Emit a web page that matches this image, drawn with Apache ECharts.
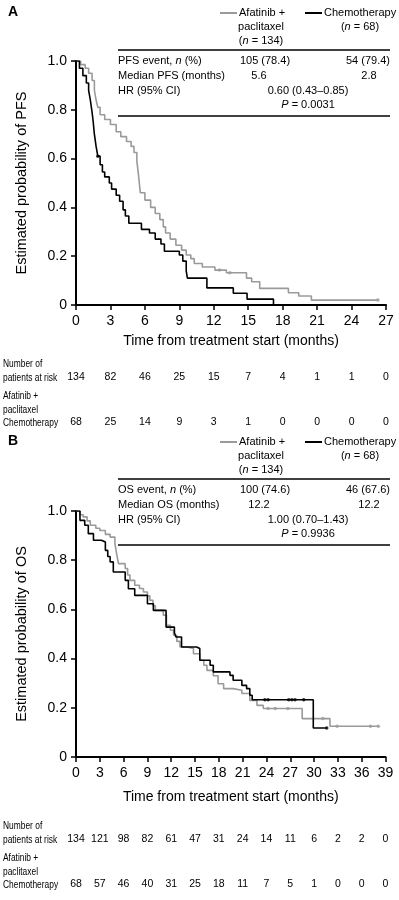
<!DOCTYPE html>
<html><head><meta charset="utf-8">
<script src="https://cdn.jsdelivr.net/npm/echarts@6/dist/echarts.min.js"></script>
<style>html,body{margin:0;padding:0;background:#fff}#c{width:399px;height:900px}</style>
</head><body><div id="c"></div>
<script>
// ---------- DATA ----------
const pfsTicks = [0,3,6,9,12,15,18,21,24,27];
const osTicks = [0,3,6,9,12,15,18,21,24,27,30,33,36,39];
const yTicks = [0,0.2,0.4,0.6,0.8,1.0];

const pfsAfatinib = [[0,1],[0.4,0.985],[0.8,0.97],[1.1,0.95],[1.4,0.92],[1.6,0.88],[1.75,0.84],[1.9,0.81],[2.1,0.78],[2.5,0.76],[3.0,0.74],[3.5,0.71],[3.9,0.69],[4.4,0.67],[4.8,0.65],[5.05,0.625],[5.3,0.59],[5.45,0.53],[5.6,0.46],[6.0,0.43],[6.5,0.40],[6.9,0.375],[7.3,0.35],[7.6,0.32],[7.8,0.295],[8.2,0.27],[8.7,0.245],[9.2,0.225],[9.6,0.205],[10.0,0.19],[10.3,0.17],[11.0,0.156],[12.1,0.143],[13.1,0.132],[14.85,0.11],[15.3,0.095],[16.0,0.068],[18.5,0.05],[19.4,0.037],[20.5,0.02],[26.3,0.02]];
const pfsChemo = [[0,1],[0.3,0.97],[0.6,0.94],[0.9,0.91],[1.1,0.88],[1.25,0.84],[1.4,0.79],[1.5,0.75],[1.6,0.70],[1.75,0.65],[1.9,0.61],[2.1,0.575],[2.3,0.545],[2.5,0.525],[2.9,0.50],[3.1,0.475],[3.5,0.45],[3.8,0.425],[4.1,0.39],[4.3,0.365],[4.6,0.335],[5.7,0.31],[6.4,0.295],[6.9,0.27],[7.4,0.25],[7.7,0.22],[9.0,0.205],[9.3,0.18],[9.6,0.14],[9.7,0.11],[11.4,0.07],[13.7,0.048],[14.9,0.024],[17.2,0]];
const pfsAfatinibCensor = [[12.5,0.143],[13.4,0.132],[26.3,0.02]];
const pfsChemoCensor = [[1.9,0.61]];

const osAfatinib = [[0,1],[0.5,0.985],[0.9,0.976],[1.4,0.96],[1.8,0.942],[2.5,0.93],[3.0,0.921],[3.7,0.905],[4.3,0.894],[4.9,0.867],[5.1,0.83],[5.35,0.786],[6.2,0.766],[6.5,0.74],[6.8,0.718],[7.4,0.698],[8.0,0.685],[8.5,0.671],[9.0,0.655],[9.3,0.637],[9.7,0.615],[10.0,0.596],[11.0,0.576],[11.4,0.535],[11.9,0.515],[12.3,0.495],[12.7,0.47],[13.1,0.447],[14.0,0.441],[14.8,0.42],[15.6,0.393],[16.1,0.373],[16.5,0.352],[17.3,0.33],[17.9,0.298],[18.6,0.278],[19.8,0.271],[20.9,0.258],[21.9,0.23],[22.8,0.21],[23.6,0.197],[28.5,0.156],[32.0,0.125],[38.1,0.125]];
const osChemo = [[0,1],[0.5,0.962],[1.1,0.942],[1.55,0.908],[2.2,0.881],[3.2,0.874],[3.7,0.84],[4.0,0.815],[4.3,0.793],[4.7,0.752],[6.2,0.718],[6.6,0.684],[7.4,0.657],[9.0,0.623],[9.75,0.596],[11.35,0.528],[12.4,0.505],[12.6,0.488],[13.3,0.447],[15.2,0.441],[15.6,0.393],[16.9,0.373],[17.3,0.346],[19.4,0.332],[19.8,0.312],[20.9,0.291],[21.5,0.278],[21.9,0.251],[22.2,0.233],[29.9,0.118],[31.6,0.118]];
const osAfatinibCensor = [[24.2,0.197],[25.1,0.197],[26.7,0.197],[31.1,0.156],[32.9,0.125],[37.1,0.125],[38.1,0.125]];
const osChemoCensor = [[23.8,0.233],[24.2,0.233],[26.8,0.233],[27.2,0.233],[27.6,0.233],[28.7,0.233],[31.6,0.118]];

const pfsRiskAfatinib = [134,82,46,25,15,7,4,1,1,0];
const pfsRiskChemo = [68,25,14,9,3,1,0,0,0,0];
const osRiskAfatinib = [134,121,98,82,61,47,31,24,14,11,6,2,2,0];
const osRiskChemo = [68,57,46,40,31,25,18,11,7,5,1,0,0,0];

const legendNames = ['Afatinib +','paclitaxel','(n = 134)','Chemotherapy','(n = 68)'];
const riskRowLabels = ['Number of','patients at risk','Afatinib +','paclitaxel','Chemotherapy'];
const pfsTable = {ev:['105 (78.4)','54 (79.4)'], med:['5.6','2.8'], hr:'0.60 (0.43\u20130.85)', p:'0.0031'};
const osTable = {ev:['100 (74.6)','46 (67.6)'], med:['12.2','12.2'], hr:'1.00 (0.70\u20131.43)', p:'0.9936'};

// ---------- CHART ----------
const FONT = '"Liberation Sans", Arial, sans-serif';
const GRAY = '#9a9a9a';
const chart = echarts.init(document.getElementById('c'), null, {renderer:'canvas'});

function mainX(grid, max, name, gap){
  return {type:'value', gridIndex:grid, min:0, max:max, interval:3,
    name:name, nameLocation:'middle', nameGap:gap,
    nameTextStyle:{fontFamily:FONT, fontSize:14, color:'#000'},
    axisLine:{lineStyle:{color:'#000', width:2}},
    axisTick:{length:5, lineStyle:{color:'#000', width:1.5}},
    axisLabel:{fontFamily:FONT, fontSize:14, color:'#000', margin:9},
    splitLine:{show:false}};
}
function riskX(grid, max, offset, arr){
  return {type:'value', gridIndex:grid, min:0, max:max, interval:3, position:'bottom', offset:offset,
    axisLine:{show:false}, axisTick:{show:false}, splitLine:{show:false},
    axisLabel:{fontFamily:FONT, fontSize:10.5, color:'#000', margin:0,
      formatter:(v)=>{const i=Math.round(v/3); return arr[i]===undefined?'':String(arr[i]);}}};
}
function mainY(grid, name){
  return {type:'value', gridIndex:grid, min:0, max:1, interval:0.2,
    name:name, nameLocation:'middle', nameGap:47, nameRotate:90,
    nameTextStyle:{fontFamily:FONT, fontSize:14.5, color:'#000'},
    axisLine:{show:true, lineStyle:{color:'#000', width:2}},
    axisTick:{show:true, length:5, lineStyle:{color:'#000', width:1.5}},
    axisLabel:{fontFamily:FONT, fontSize:14, color:'#000', margin:9,
      formatter:(v)=> v===0 ? '0' : v.toFixed(1)},
    splitLine:{show:false}};
}
function km(x, y, data, color, z){
  return {type:'line', xAxisIndex:x, yAxisIndex:y, data:data, step:'end', symbol:'none',
    lineStyle:{color:color, width:1.6}, z:z, animation:false};
}
function cens(x, y, data, color, z){
  return {type:'scatter', xAxisIndex:x, yAxisIndex:y, data:data, symbol:'circle', symbolSize:3.5,
    itemStyle:{color:color}, z:z, animation:false};
}

function T(x, y, text, opt){
  opt = opt || {};
  const el = {type:'text', x:x, y:y, z:10, style:{text:text, fill:'#000',
    font:(opt.bold?'bold ':'')+(opt.size||11)+'px '+FONT, align:opt.align||'left', verticalAlign:'middle'}};
  if (opt.sx) el.scaleX = opt.sx;
  return el;
}
function RT(x, y, text, align, size){
  return {type:'text', x:x, y:y, z:10, style:{text:text, align:align||'left', verticalAlign:'middle',
    rich:{a:{fontFamily:FONT, fontSize:size||11, fill:'#000'}, i:{fontFamily:FONT, fontSize:size||11, fontStyle:'italic', fill:'#000'}}}};
}
function L(x1, y1, x2, y2, color, w){
  return {type:'line', z:10, shape:{x1:x1,y1:y1,x2:x2,y2:y2}, style:{stroke:color, lineWidth:w}};
}

function panelGraphics(top, label, tbl, rowName, medName){
  const g = [];
  g.push(T(8, top-1, label, {bold:true, size:14}));
  // legend
  g.push(L(220, top, 237, top, GRAY, 2));
  g.push(T(239, top, legendNames[0]));
  g.push(T(261, top+14, legendNames[1], {align:'center'}));
  g.push(RT(261, top+28, '{a|(}{i|n}{a| = 134)}', 'center'));
  g.push(L(305, top, 322, top, '#000', 2));
  g.push(T(324, top, legendNames[3]));
  g.push(RT(360, top+14, '{a|(}{i|n}{a| = 68)}', 'center'));
  // table
  g.push(L(118, top+37, 390, top+37, '#000', 1.5));
  g.push(RT(118, top+48, '{a|'+rowName+' event, }{i|n}{a| (%)}', 'left'));
  g.push(T(265, top+48, tbl.ev[0], {align:'center'}));
  g.push(T(368, top+48, tbl.ev[1], {align:'center'}));
  g.push(T(118, top+63, medName));
  g.push(T(259, top+63, tbl.med[0], {align:'center'}));
  g.push(T(369, top+63, tbl.med[1], {align:'center'}));
  g.push(T(118, top+78, 'HR (95% CI)'));
  g.push(T(308, top+78, tbl.hr, {align:'center'}));
  g.push(RT(308, top+92, '{i|P}{a| = '+tbl.p+'}', 'center'));
  g.push(L(118, top+103, 390, top+103, '#000', 1.5));
  return g;
}
function riskGraphics(y0){
  const o = {size:10.5, sx:0.8};
  const dy = [0, 14, 32, 46, 59];
  return riskRowLabels.map((t, i) => T(3, y0 + dy[i], t, o));
}

let graphics = [];
graphics = graphics.concat(panelGraphics(13, 'A', pfsTable, 'PFS', 'Median PFS (months)'));
graphics = graphics.concat(panelGraphics(442, 'B', osTable, 'OS', 'Median OS (months)'));
graphics = graphics.concat(riskGraphics(364));
graphics = graphics.concat(riskGraphics(826));

const option = {
  animation:false,
  backgroundColor:'#fff',
  grid:[
    {left:76, top:61, width:310, height:244},
    {left:76, top:511, width:309.5, height:246}
  ],
  xAxis:[
    mainX(0, 27, 'Time from treatment start (months)', 29),
    riskX(0, 27, 67, pfsRiskAfatinib),
    riskX(0, 27, 112, pfsRiskChemo),
    mainX(1, 39, 'Time from treatment start (months)', 33),
    riskX(1, 39, 77, osRiskAfatinib),
    riskX(1, 39, 122, osRiskChemo)
  ],
  yAxis:[ mainY(0, 'Estimated probability of PFS'), mainY(1, 'Estimated probability of OS') ],
  series:[
    km(0,0,pfsAfatinib,GRAY,2), km(0,0,pfsChemo,'#000',3),
    cens(0,0,pfsAfatinibCensor,GRAY,2), cens(0,0,pfsChemoCensor,'#000',3),
    km(3,1,osAfatinib,GRAY,2), km(3,1,osChemo,'#000',3),
    cens(3,1,osAfatinibCensor,GRAY,2), cens(3,1,osChemoCensor,'#000',3)
  ],
  graphic:graphics
};
chart.setOption(option);
</script></body></html>
